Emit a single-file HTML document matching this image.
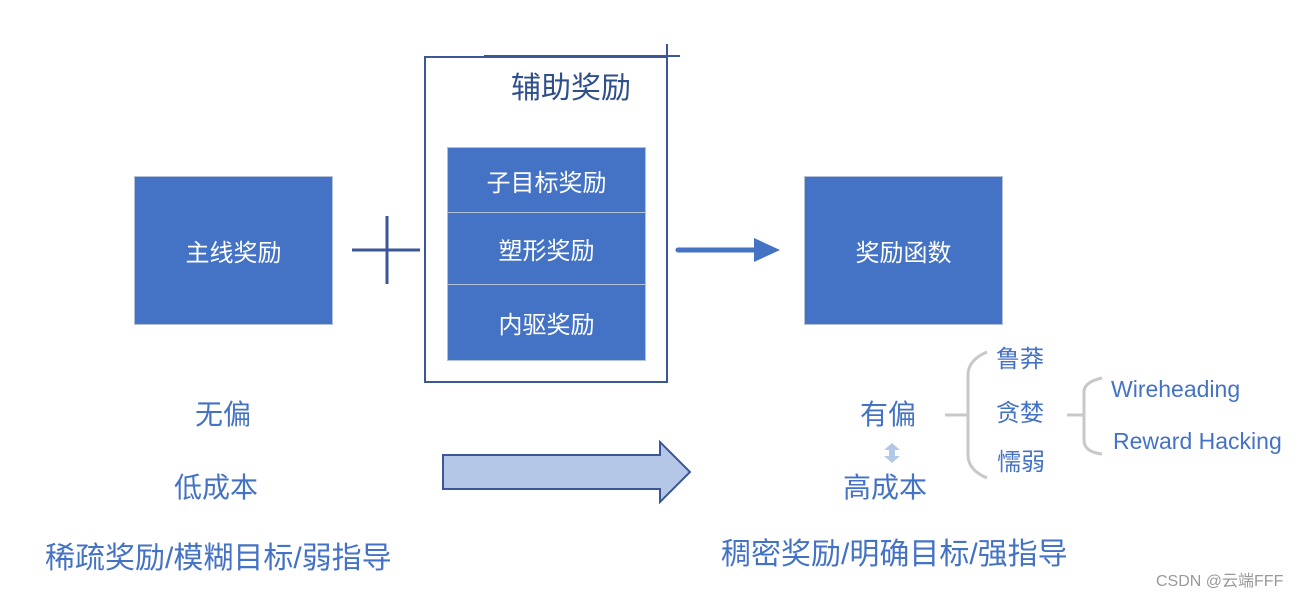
<!DOCTYPE html>
<html><head><meta charset="utf-8"><style>
body{margin:0;width:1312px;height:601px;background:#fff;position:relative;overflow:hidden;font-family:"Liberation Sans","Noto Sans CJK SC",sans-serif}
.a{position:absolute}
.box{position:absolute;background:#4472c4;color:#fff;display:flex;align-items:center;justify-content:center;font-size:24px;border:1px solid #b4c0d4;box-sizing:border-box}
.t{position:absolute;color:#4472c4;white-space:nowrap;line-height:1}
</style></head><body>
<div class="box" style="left:134px;top:176px;width:199px;height:149px">主线奖励</div>
<div class="box" style="left:804px;top:176px;width:199px;height:149px">奖励函数</div>
<div class="a" style="left:424px;top:56px;width:244px;height:327px;border:2px solid #3b5797;box-sizing:border-box"></div>
<div class="a" style="left:484px;top:55px;width:196px;height:2px;background:#3b5797"></div>
<div class="a" style="left:666px;top:44px;width:2px;height:44px;background:#3b5797"></div>
<div class="t" style="left:511px;top:74px;font-size:30px;color:#2f4f8a">辅助奖励</div>
<div class="box" style="left:447px;top:147px;width:199px;height:66px">子目标奖励</div>
<div class="box" style="left:447px;top:212px;width:199px;height:73px">塑形奖励</div>
<div class="box" style="left:447px;top:284px;width:199px;height:77px">内驱奖励</div>
<svg class="a" style="left:0;top:0" width="1312" height="601">
<line x1="352" y1="250" x2="420" y2="250" stroke="#3b5797" stroke-width="3"/>
<line x1="387" y1="216" x2="387" y2="284" stroke="#3b5797" stroke-width="3"/>
<line x1="678" y1="250" x2="758" y2="250" stroke="#4472c4" stroke-width="5" stroke-linecap="round"/>
<polygon points="754,238 780,250 754,262" fill="#4472c4"/>
<polygon points="443,455 660,455 660,442 690,472 660,502 660,489 443,489" fill="#b4c7e7" stroke="#3b5797" stroke-width="2"/>
<polygon points="892,443 900,450 895,450 895,456 900,456 892,463 884,456 889,456 889,450 884,450" fill="#b4c7e7"/>
<g fill="none" stroke="#c8c8c8" stroke-width="3">
<path d="M945,415 H968"/>
<path d="M987,352 Q968,360 968,375 V455 Q968,470 987,478"/>
<path d="M1067,415 H1084"/>
<path d="M1102,378 Q1084,382 1084,392 V440 Q1084,452 1102,454"/>
</g>
</svg>
<div class="t" style="left:195px;top:401px;font-size:28px">无偏</div>
<div class="t" style="left:174px;top:474px;font-size:28px">低成本</div>
<div class="t" style="left:45px;top:544px;font-size:30px">稀疏奖励/模糊目标/弱指导</div>
<div class="t" style="left:860px;top:401px;font-size:28px">有偏</div>
<div class="t" style="left:843px;top:474px;font-size:28px">高成本</div>
<div class="t" style="left:721px;top:540px;font-size:30px">稠密奖励/明确目标/强指导</div>
<div class="t" style="left:996px;top:348px;font-size:24px">鲁莽</div>
<div class="t" style="left:996px;top:402px;font-size:24px">贪婪</div>
<div class="t" style="left:997px;top:451px;font-size:24px">懦弱</div>
<div class="t" style="left:1111px;top:378px;font-size:23px">Wireheading</div>
<div class="t" style="left:1113px;top:430px;font-size:23px">Reward Hacking</div>
<div class="t" style="left:1156px;top:574px;font-size:16px;color:#999">CSDN @云端FFF</div>
</body></html>
